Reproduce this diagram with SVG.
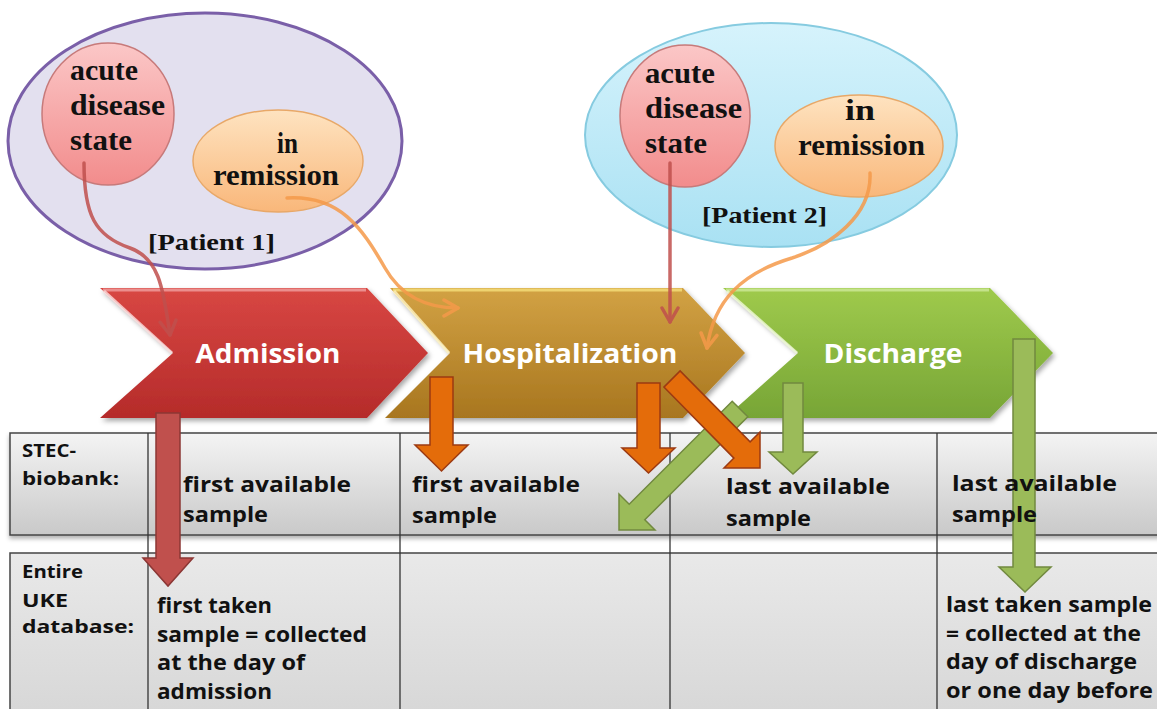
<svg xmlns="http://www.w3.org/2000/svg" width="1157" height="709" viewBox="0 0 1157 709">
<defs>
<linearGradient id="gRed" x1="0" y1="0" x2="0" y2="1"><stop offset="0" stop-color="#d84743"/><stop offset="1" stop-color="#b52b2a"/></linearGradient>
<linearGradient id="gGold" x1="0" y1="0" x2="0" y2="1"><stop offset="0" stop-color="#d2a244"/><stop offset="1" stop-color="#a8761f"/></linearGradient>
<linearGradient id="gGreen" x1="0" y1="0" x2="0" y2="1"><stop offset="0" stop-color="#9fca4c"/><stop offset="1" stop-color="#77a536"/></linearGradient>
<linearGradient id="gPink" x1="0" y1="0" x2="0" y2="1"><stop offset="0" stop-color="#fbc7c7"/><stop offset="1" stop-color="#f28c8c"/></linearGradient>
<linearGradient id="gOrange" x1="0" y1="0" x2="0" y2="1"><stop offset="0" stop-color="#fee3c0"/><stop offset="1" stop-color="#f9b77a"/></linearGradient>
<linearGradient id="gCyan" x1="0" y1="0" x2="0" y2="1"><stop offset="0" stop-color="#d6f3fc"/><stop offset="1" stop-color="#a9e1f3"/></linearGradient>
<linearGradient id="gRow1" x1="0" y1="0" x2="0" y2="1"><stop offset="0" stop-color="#f4f4f4"/><stop offset="1" stop-color="#c9c9c9"/></linearGradient>
<linearGradient id="gRow2" x1="0" y1="0" x2="0" y2="1"><stop offset="0" stop-color="#e9e9e9"/><stop offset="1" stop-color="#d6d6d6"/></linearGradient>
<filter id="sh" x="-10%" y="-10%" width="120%" height="130%"><feDropShadow dx="2" dy="3" stdDeviation="2.5" flood-color="#000" flood-opacity="0.35"/></filter>
<filter id="sh2" x="-5%" y="-10%" width="110%" height="130%"><feDropShadow dx="0" dy="3" stdDeviation="2" flood-color="#000" flood-opacity="0.3"/></filter>
<marker id="mRed" viewBox="0 0 20 20" refX="17" refY="10" markerWidth="20" markerHeight="20" markerUnits="userSpaceOnUse" orient="auto"><path d="M3,2 L17,10 L3,18" fill="none" stroke="#c0504d" stroke-width="3.5" stroke-linecap="round" stroke-linejoin="round"/></marker>
<marker id="mOr" viewBox="0 0 20 20" refX="17" refY="10" markerWidth="20" markerHeight="20" markerUnits="userSpaceOnUse" orient="auto"><path d="M3,2 L17,10 L3,18" fill="none" stroke="#f59a4a" stroke-width="3.5" stroke-linecap="round" stroke-linejoin="round"/></marker>
</defs>
<style>
.ser{font-family:"Liberation Serif","Times New Roman",serif;font-weight:bold;font-size:30px;fill:#111}
.pat{font-family:"Liberation Serif","Times New Roman",serif;font-weight:bold;font-size:23px;fill:#111}
.chev{font-family:"Open Sans","Liberation Sans",sans-serif;font-weight:bold;font-size:27px;fill:#fff}
.tb{font-family:"Open Sans","Liberation Sans",sans-serif;font-weight:bold;font-size:22px;fill:#111}
.lb{font-family:"Open Sans","Liberation Sans",sans-serif;font-weight:bold;font-size:17px;fill:#111}
.hl{fill:none;stroke-width:3;stroke-linejoin:round;opacity:0.8}
.ba-r{fill:#c0504d;stroke:#8c3735;stroke-width:1.5}
.ba-o{fill:#e46c0a;stroke:#9c3a12;stroke-width:1.5}
.ba-g{fill:#9bbb59;stroke:#71893f;stroke-width:1.5}
.ln{fill:none;stroke-width:3.5;stroke-linecap:round}
</style>

<g id="table">
<rect x="10" y="433" width="1160" height="102" fill="url(#gRow1)" stroke="#444" stroke-width="1.5" filter="url(#sh2)"/>
<rect x="10" y="553" width="1160" height="170" fill="url(#gRow2)" stroke="#444" stroke-width="1.5"/>
<g stroke="#333" stroke-width="1.3">
<line x1="148" y1="433" x2="148" y2="709"/>
<line x1="400" y1="433" x2="400" y2="709"/>
<line x1="670" y1="433" x2="670" y2="709"/>
<line x1="937" y1="433" x2="937" y2="709"/>
</g>
</g>

<g id="patient1">
<ellipse cx="205" cy="141" rx="197" ry="128" fill="#e3e0ef" stroke="#7a5fa8" stroke-width="3"/>
<text class="pat" x="148" y="250" textLength="127" lengthAdjust="spacingAndGlyphs">[Patient 1]</text>
</g>
<g id="acute1">
<ellipse cx="108" cy="114" rx="66" ry="71" fill="url(#gPink)" stroke="#c77a7a" stroke-width="1.5"/>
<text class="ser" x="70" y="80" textLength="68" lengthAdjust="spacingAndGlyphs">acute</text>
<text class="ser" x="70" y="115" textLength="95" lengthAdjust="spacingAndGlyphs">disease</text>
<text class="ser" x="70" y="150" textLength="62" lengthAdjust="spacingAndGlyphs">state</text>
</g>
<g id="remission1">
<ellipse cx="278" cy="161" rx="85" ry="51" fill="url(#gOrange)" stroke="#e8a868" stroke-width="1.5"/>
<text class="ser" x="277" y="153" textLength="21" lengthAdjust="spacingAndGlyphs">in</text>
<text class="ser" x="213" y="185" textLength="126" lengthAdjust="spacingAndGlyphs">remission</text>
</g>

<g id="patient2">
<ellipse cx="771" cy="135" rx="186" ry="112" fill="url(#gCyan)" stroke="#86cbe0" stroke-width="2"/>
<text class="pat" x="702" y="223" textLength="125" lengthAdjust="spacingAndGlyphs">[Patient 2]</text>
</g>
<g id="acute2">
<ellipse cx="685" cy="116" rx="65" ry="71" fill="url(#gPink)" stroke="#c77a7a" stroke-width="1.5"/>
<text class="ser" x="645" y="83" textLength="70" lengthAdjust="spacingAndGlyphs">acute</text>
<text class="ser" x="645" y="118" textLength="97" lengthAdjust="spacingAndGlyphs">disease</text>
<text class="ser" x="645" y="153" textLength="62" lengthAdjust="spacingAndGlyphs">state</text>
</g>
<g id="remission2">
<ellipse cx="859" cy="146" rx="84" ry="51" fill="url(#gOrange)" stroke="#e8a868" stroke-width="1.5"/>
<text class="ser" x="845" y="120" textLength="30" lengthAdjust="spacingAndGlyphs">in</text>
<text class="ser" x="798" y="155" textLength="127" lengthAdjust="spacingAndGlyphs">remission</text>
</g>

<g id="admission">
<polygon points="100,288 367,288 428,353 367,418 100,418 173,353" fill="url(#gRed)" filter="url(#sh)"/>
<polyline class="hl" points="103,290 366,290" stroke="#f0a0a0"/>
<polyline class="hl" points="104,291 172,353" stroke="#fde0e0"/>
<text class="chev" x="268" y="363" text-anchor="middle" textLength="145" lengthAdjust="spacingAndGlyphs">Admission</text>
</g>
<g id="hospitalization">
<polygon points="390,288 683,288 745,353 683,418 385,418 450,353" fill="url(#gGold)" filter="url(#sh)"/>
<polyline class="hl" points="393,290 682,290" stroke="#f5e07a"/>
<polyline class="hl" points="394,291 449,353" stroke="#fff4c0"/>
<text class="chev" x="570" y="363" text-anchor="middle" textLength="215" lengthAdjust="spacingAndGlyphs">Hospitalization</text>
</g>
<g id="discharge">
<polygon points="723,288 990,288 1053,353 990,418 725,418 798,353" fill="url(#gGreen)" filter="url(#sh)"/>
<polyline class="hl" points="726,290 989,290" stroke="#cde89a"/>
<polyline class="hl" points="727,291 797,353" stroke="#f0fad8"/>
<text class="chev" x="893" y="363" text-anchor="middle" textLength="139" lengthAdjust="spacingAndGlyphs">Discharge</text>
</g>

<g id="connectors">
<path class="ln" d="M84 163 C84 215 95 236 130 248 C158 258 163 285 170 335" stroke="#c0504d" opacity="0.85" marker-end="url(#mRed)"/>
<path class="ln" d="M287 198 C340 195 362 228 385 268 C402 298 428 308 458 308" stroke="#f59a4a" opacity="0.85" marker-end="url(#mOr)"/>
<path class="ln" d="M670 163 L670 322" stroke="#c0504d" opacity="0.85" marker-end="url(#mRed)"/>
<path class="ln" d="M870 173 C872 215 832 245 792 258 C742 273 714 300 707 348" stroke="#f59a4a" opacity="0.85" marker-end="url(#mOr)"/>
</g>

<g id="block-arrows">
<polygon class="ba-r" points="156,413 180,413 180,558 193,558 168,586 143,558 156,558"/>
<polygon class="ba-o" points="430,377 453,377 453,445 468,445 441.5,471 415,445 430,445"/>
<polygon class="ba-g" points="732.2,401.2 747.8,416.8 644.8,519.8 655,530 619,530 619,494 629.2,504.2"/>
<polygon class="ba-o" points="637,383 660,383 660,448 675,448 648.5,473 622,448 637,448"/>
<polygon class="ba-o" points="663.9,387.1 680.1,370.9 750.1,441.9 760,432 760,468 724,468 733.9,458.1"/>
<polygon class="ba-g" points="783,383 803,383 803,452 817,452 793,474 769,452 783,452"/>
<polygon class="ba-g" points="1013,339 1035,339 1035,567 1051,567 1025,592 999,567 1013,567"/>
</g>

<g id="table-text">
<text class="lb" x="22" y="457" textLength="54" lengthAdjust="spacingAndGlyphs">STEC-</text>
<text class="lb" x="22" y="485" textLength="97" lengthAdjust="spacingAndGlyphs">biobank:</text>
<text class="lb" x="22" y="578" textLength="61" lengthAdjust="spacingAndGlyphs">Entire</text>
<text class="lb" x="22" y="607" textLength="46" lengthAdjust="spacingAndGlyphs">UKE</text>
<text class="lb" x="22" y="633" textLength="112" lengthAdjust="spacingAndGlyphs">database:</text>

<text class="tb" x="183" y="492" textLength="168" lengthAdjust="spacingAndGlyphs">first available</text>
<text class="tb" x="183" y="522" textLength="85" lengthAdjust="spacingAndGlyphs">sample</text>
<text class="tb" x="412" y="492" textLength="168" lengthAdjust="spacingAndGlyphs">first available</text>
<text class="tb" x="412" y="523" textLength="85" lengthAdjust="spacingAndGlyphs">sample</text>
<text class="tb" x="726" y="494" textLength="164" lengthAdjust="spacingAndGlyphs">last available</text>
<text class="tb" x="726" y="526" textLength="85" lengthAdjust="spacingAndGlyphs">sample</text>
<text class="tb" x="952" y="491" textLength="165" lengthAdjust="spacingAndGlyphs">last available</text>
<text class="tb" x="952" y="522" textLength="85" lengthAdjust="spacingAndGlyphs">sample</text>

<text class="tb" x="157" y="613" textLength="115" lengthAdjust="spacingAndGlyphs">first taken</text>
<text class="tb" x="157" y="642" textLength="210" lengthAdjust="spacingAndGlyphs">sample = collected</text>
<text class="tb" x="157" y="670" textLength="148" lengthAdjust="spacingAndGlyphs">at the day of</text>
<text class="tb" x="157" y="699" textLength="115" lengthAdjust="spacingAndGlyphs">admission</text>
<text class="tb" x="946" y="612" textLength="206" lengthAdjust="spacingAndGlyphs">last taken sample</text>
<text class="tb" x="946" y="641" textLength="195" lengthAdjust="spacingAndGlyphs">= collected at the</text>
<text class="tb" x="946" y="669" textLength="191" lengthAdjust="spacingAndGlyphs">day of discharge</text>
<text class="tb" x="946" y="698" textLength="207" lengthAdjust="spacingAndGlyphs">or one day before</text>
</g>
</svg>
